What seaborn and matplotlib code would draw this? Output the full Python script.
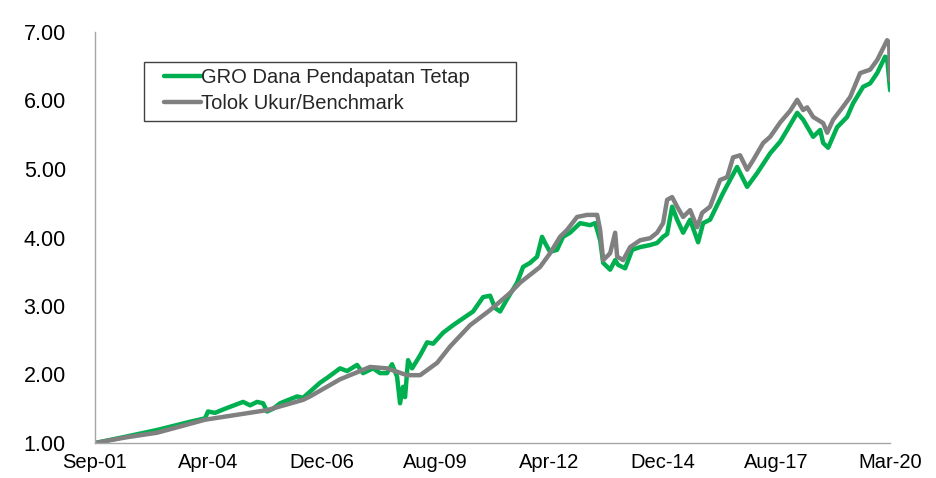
import pandas as pd
import numpy as np
import matplotlib
matplotlib.use("Agg")
import matplotlib.pyplot as plt
import matplotlib.dates as mdates
from matplotlib.lines import Line2D
from matplotlib.patches import Rectangle
import seaborn as sns

# - - - Data (dates as decimal years) - - - #
series_names = ["GRO Dana Pendapatan Tetap", "Tolok Ukur/Benchmark"]
series_colors = ["#00B050", "#808080"]

fund_years = [
    2001.667, 2002.368, 2003.115, 2003.886, 2004.237, 2004.307, 2004.470, 2004.704,
    2005.124, 2005.288, 2005.451, 2005.591, 2005.685, 2005.825, 2005.989, 2006.386,
    2006.526, 2006.923, 2007.087, 2007.390, 2007.554, 2007.787, 2007.927, 2008.161,
    2008.325, 2008.488, 2008.605, 2008.722, 2008.792, 2008.862, 2008.909, 2008.979,
    2009.072, 2009.259, 2009.423, 2009.563, 2009.796, 2010.030, 2010.263, 2010.497,
    2010.731, 2010.894, 2011.011, 2011.128, 2011.291, 2011.525, 2011.665, 2011.829,
    2011.992, 2012.109, 2012.179, 2012.296, 2012.459, 2012.599, 2012.763, 2012.997,
    2013.230, 2013.347, 2013.464, 2013.534, 2013.697, 2013.814, 2013.884, 2014.048,
    2014.211, 2014.398, 2014.632, 2014.795, 2014.935, 2015.029, 2015.146, 2015.263,
    2015.403, 2015.566, 2015.753, 2015.870, 2016.033, 2016.337, 2016.664, 2016.898,
    2017.131, 2017.435, 2017.669, 2017.832, 2018.066, 2018.206, 2018.439, 2018.603,
    2018.673, 2018.790, 2019.000, 2019.234, 2019.374, 2019.607, 2019.771, 2019.935,
    2020.121, 2020.168, 2020.238,
]
fund_values = [
    1.00, 1.09, 1.19, 1.31, 1.36, 1.46, 1.44, 1.50,
    1.60, 1.55, 1.60, 1.58, 1.46, 1.50, 1.58, 1.68,
    1.66, 1.88, 1.95, 2.09, 2.05, 2.14, 2.02, 2.09,
    2.02, 2.02, 2.15, 1.97, 1.58, 1.82, 1.67, 2.21,
    2.09, 2.28, 2.47, 2.45, 2.61, 2.72, 2.82, 2.92,
    3.13, 3.15, 2.97, 2.92, 3.10, 3.34, 3.57, 3.63,
    3.72, 4.01, 3.92, 3.79, 3.82, 4.01, 4.07, 4.21,
    4.18, 4.21, 3.96, 3.63, 3.53, 3.67, 3.60, 3.55,
    3.82, 3.86, 3.89, 3.92, 4.01, 4.05, 4.45, 4.26,
    4.07, 4.26, 3.93, 4.21, 4.26, 4.65, 5.03, 4.74,
    4.94, 5.23, 5.40, 5.57, 5.82, 5.72, 5.47, 5.57,
    5.38, 5.31, 5.61, 5.76, 5.96, 6.20, 6.25, 6.40,
    6.64, 6.62, 6.15,
]

bench_years = [
    2001.667, 2002.368, 2003.115, 2003.886, 2004.237, 2005.685, 2006.526, 2006.689,
    2007.390, 2008.091, 2008.488, 2008.955, 2009.259, 2009.656, 2009.960, 2010.427,
    2010.894, 2011.361, 2011.595, 2012.062, 2012.296, 2012.529, 2012.693, 2012.927,
    2013.160, 2013.394, 2013.464, 2013.534, 2013.697, 2013.814, 2013.861, 2014.001,
    2014.165, 2014.398, 2014.632, 2014.795, 2014.935, 2015.029, 2015.146, 2015.263,
    2015.403, 2015.566, 2015.730, 2015.847, 2016.033, 2016.267, 2016.431, 2016.571,
    2016.734, 2016.898, 2017.038, 2017.271, 2017.435, 2017.669, 2017.902, 2018.066,
    2018.206, 2018.299, 2018.439, 2018.673, 2018.767, 2018.907, 2019.140, 2019.304,
    2019.537, 2019.771, 2019.935, 2020.168, 2020.215, 2020.238,
]
bench_values = [
    1.00, 1.08, 1.15, 1.28, 1.34, 1.48, 1.63, 1.68,
    1.93, 2.11, 2.09, 1.99, 1.99, 2.17, 2.41, 2.72,
    2.94, 3.19, 3.34, 3.57, 3.77, 4.01, 4.11, 4.30,
    4.33, 4.33, 4.11, 3.67, 3.77, 4.07, 3.72, 3.67,
    3.86, 3.96, 3.99, 4.07, 4.21, 4.55, 4.59, 4.45,
    4.30, 4.40, 4.15, 4.36, 4.45, 4.84, 4.88, 5.17,
    5.20, 4.99, 5.13, 5.38, 5.47, 5.68, 5.85, 6.01,
    5.86, 5.90, 5.76, 5.67, 5.53, 5.72, 5.91, 6.05,
    6.40, 6.45, 6.59, 6.88, 6.85, 6.30,
]

tick_dates = ["2001-09-01", "2004-04-27", "2006-12-22", "2009-08-17",
              "2012-04-12", "2014-12-07", "2017-08-02", "2020-03-27"]
y_ticks = [1, 2, 3, 4, 5, 6, 7]


def to_dates(years):
    return [pd.Timestamp(int(y), 1, 1) + pd.Timedelta(days=(y - int(y)) * 365.25) for y in years]


df = pd.concat([
    pd.DataFrame({"date": to_dates(fund_years), "value": fund_values, "series": series_names[0]}),
    pd.DataFrame({"date": to_dates(bench_years), "value": bench_values, "series": series_names[1]}),
])

sns.set_style("white")
plt.rcParams["font.family"] = ["Liberation Sans", "DejaVu Sans"]

fig = plt.figure(figsize=(9.36, 4.78), dpi=100)
ax = fig.add_axes([95 / 936, 1 - 443 / 478, 795 / 936, 411 / 478])

sns.lineplot(data=df, x="date", y="value", hue="series", hue_order=series_names,
             palette=series_colors, linewidth=3.2, estimator=None, sort=False,
             legend=False, ax=ax)

ticks = pd.to_datetime(tick_dates)
ax.set_xlim(ticks[0], ticks[-1])
ax.set_xticks(ticks)
ax.xaxis.set_major_formatter(mdates.DateFormatter("%b-%y"))
ax.set_ylim(1, 7)
ax.set_yticks(y_ticks)
ax.yaxis.set_major_formatter(matplotlib.ticker.FormatStrFormatter("%.2f"))
ax.set_xlabel("")
ax.set_ylabel("")

for side in ["top", "right"]:
    ax.spines[side].set_visible(False)
for side in ["left", "bottom"]:
    ax.spines[side].set_color("#A6A6A6")
    ax.spines[side].set_linewidth(1)

ax.tick_params(axis="both", direction="out", length=5, width=1, color="#A6A6A6",
               labelsize=15.5, labelcolor="black")
ax.tick_params(axis="y", pad=16)
# x labels sit just under the ticks so they stay inside the canvas
ax.tick_params(axis="x", pad=2, labelsize=14.5)

# legend box drawn separately so the inner padding can match the reference
fig.patches.append(Rectangle((144 / 936, 1 - 121 / 478), 372 / 936, 59 / 478,
                             transform=fig.transFigure, fill=False,
                             edgecolor="#404040", linewidth=1))
handles = [Line2D([], [], color=c, lw=3.2) for c in series_colors]
leg = ax.legend(handles, series_names, loc="upper left",
                bbox_to_anchor=(164 / 936, 1 - 68 / 478), bbox_transform=fig.transFigure,
                frameon=False, fontsize=14.5, handlelength=1.85, handletextpad=0.0,
                borderpad=0, labelspacing=0.35, borderaxespad=0)

fig.savefig("out.png", dpi=100)
